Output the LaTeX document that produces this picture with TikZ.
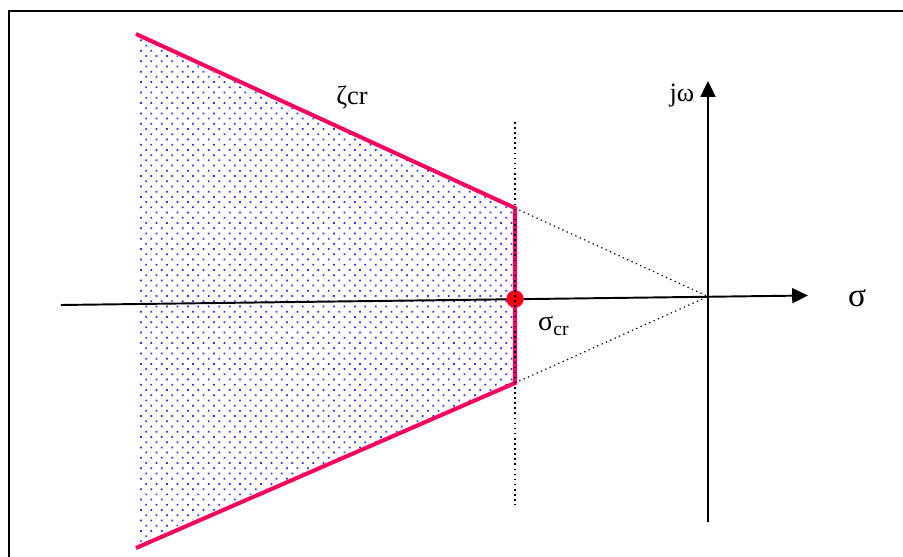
\documentclass[tikz,border=0pt]{standalone}
\usepackage{fontspec}
\setmainfont{Liberation Serif}
\usetikzlibrary{arrows.meta, patterns.meta, calc}
\definecolor{critred}{RGB}{245,5,95}
\definecolor{dotblue}{RGB}{50,50,240}

\begin{document}
\begin{tikzpicture}[
        axis/.style={line width=1.1pt, -{Triangle[length=9pt, width=8.5pt]}},
        critline/.style={draw=critred, line width=2.3pt},
        guide/.style={dotted, line width=0.9pt},
        region/.style={pattern={Dots[distance=4.2pt, radius=0.7pt, angle=45]}, pattern color=dotblue},
        lbl/.style={inner sep=1pt}
    ]
        \useasboundingbox (0,0) rectangle (18.06,11.14);
        % frame (only top and left edges show)
        \draw[line width=1.2pt] (0.18,-0.2) -- (0.18,10.92) -- (18.3,10.92);

        \coordinate (A)   at (2.72,10.46);
        \coordinate (B)   at (10.30,6.98);
        \coordinate (C)   at (10.30,3.48);
        \coordinate (D)   at (2.72,0.18);
        \coordinate (O)   at (14.16,5.21);
        \coordinate (xl)  at (1.22,5.04);
        \coordinate (xr)  at (16.16,5.23);
        \coordinate (yb)  at (14.16,0.70);
        \coordinate (yt)  at (14.16,9.52);
        \coordinate (vt)  at (10.30,8.70);
        \coordinate (vb)  at (10.30,1.04);

        % stable region
        \fill[region] (2.76,10.38) -- (B) -- (C) -- (2.76,0.28) -- cycle;

        \draw[axis] (xl) -- (xr);
        \draw[axis] (yb) -- (yt);
        \node[lbl, font=\fontsize{19}{19}\selectfont] (sig) at (17.14,5.18) {σ};
        \node[lbl, font=\fontsize{15}{15}\selectfont] (jw) at (13.64,9.22) {jω};

        \draw[guide, line width=0.7pt] (B) -- (O);
        \draw[guide, line width=0.7pt] (C) -- (O);

        \draw[critline] (A) -- (B) -- (C) -- (D);
        \node[lbl, font=\fontsize{15}{15}\selectfont] (zcr) at (7.04,9.18) {ζcr};

        \node[circle, fill=red, draw=critred, line width=0.6pt, minimum size=0.33cm, inner sep=0pt] (scr) at (10.30,5.16) {};
        \node[lbl, font=\fontsize{16}{16}\selectfont, anchor=west] (scrl) at (10.72,4.62) {σ\textsubscript{cr}};

        \draw[guide] (vt) -- (vb);
    \end{tikzpicture}
\end{document}
